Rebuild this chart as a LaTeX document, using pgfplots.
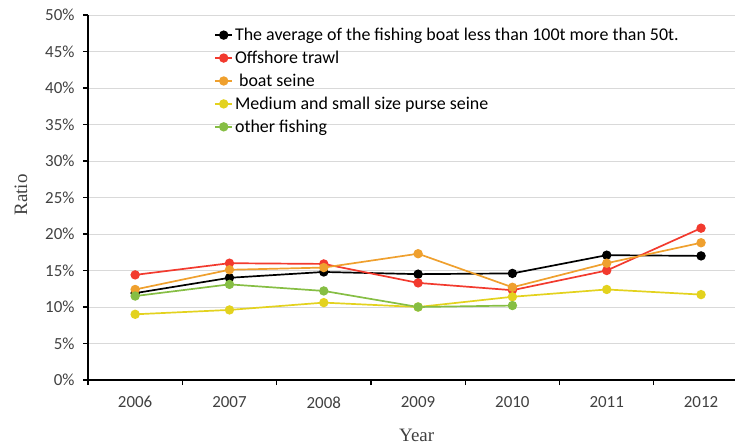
\documentclass[border=0pt]{standalone}
\usepackage{pgfplots}
\pgfplotsset{compat=1.18}
\usepackage{fontspec}
\setmainfont{Carlito}
\newfontfamily\serifl{Liberation Serif}
\definecolor{cblack}{HTML}{000000}
\definecolor{cred}{HTML}{F23A2E}
\definecolor{corange}{HTML}{EFA02E}
\definecolor{cyellow}{HTML}{E3D21E}
\definecolor{cgreen}{HTML}{86BE44}
\definecolor{tickgray}{HTML}{404040}
\begin{document}
\begin{tikzpicture}
\begin{axis}[
  scale only axis,
  width=647bp, height=365bp,
  xmin=2005.5, xmax=2012.36,
  ymin=0, ymax=50,
  axis x line=bottom, axis y line=left,
  axis line style={-, line width=1.6bp, black},
  xtick={2006,...,2012},
  xticklabels={2006,2007,2008,2009,2010,2011,2012},
  minor xtick={2005.5,2006.5,...,2011.5},
  ytick={0,5,...,50},
  yticklabel={\pgfmathprintnumber{\tick}\%},
  /pgf/number format/assume math mode=true,
  tick align=outside,
  major tick length=5bp, minor tick length=5bp,
  x tick style={draw=none},
  minor x tick style={draw=black, line width=1.2bp},
  y tick style={draw=black, line width=1.2bp},
  ymajorgrids,
  major grid style={draw=black!15, line width=1bp},
  ticklabel style={font=\fontsize{17}{19}\selectfont, text=tickgray},
  xticklabel style={yshift=-8bp},
  yticklabel style={xshift=-5bp},
  xlabel={\serifl Year},
  ylabel={\serifl Ratio},
  label style={font=\fontsize{19}{21}\selectfont, text=tickgray},
  xlabel style={at={(axis description cs:0.508,-0.1507)}, anchor=center},
  ylabel style={at={(axis description cs:-0.1035,0.507)}, anchor=center},
  legend style={draw=none, fill=none, at={(0.195,0.97)}, anchor=north west,
    font=\fontsize{18}{20}\selectfont, row sep=5bp, inner sep=0pt,
    legend cell align=left},
  legend image code/.code={\draw[mark repeat=2,mark phase=2] plot coordinates {(0cm,0cm) (0.3cm,0cm) (0.6cm,0cm)};},
  every axis plot/.append style={line width=1.7bp, mark=*, mark size=3.8bp},
]
\coordinate (O) at (rel axis cs:0,0);
\addplot[color=cblack, mark options={fill=cblack}] coordinates {
 (2006,11.9) (2007,14.0) (2008,14.8) (2009,14.5) (2010,14.6) (2011,17.1) (2012,17.0)};
\addlegendentry{The average of the fishing boat less than 100t more than 50t.}
\addplot[color=cred, mark options={fill=cred}] coordinates {
 (2006,14.4) (2007,16.0) (2008,15.9) (2009,13.3) (2010,12.3) (2011,15.0) (2012,20.8)};
\addlegendentry{Offshore trawl}
\addplot[color=corange, mark options={fill=corange}] coordinates {
 (2006,12.4) (2007,15.1) (2008,15.4) (2009,17.3) (2010,12.7) (2011,16.0) (2012,18.8)};
\addlegendentry{\ boat seine}
\addplot[color=cyellow, mark options={fill=cyellow}] coordinates {
 (2006,9.0) (2007,9.6) (2008,10.6) (2009,10.0) (2010,11.4) (2011,12.4) (2012,11.7)};
\addlegendentry{Medium and small size purse seine}
\addplot[color=cgreen, mark options={fill=cgreen}] coordinates {
 (2006,11.5) (2007,13.1) (2008,12.2) (2009,10.0) (2010,10.2)};
\addlegendentry{other fishing}
\end{axis}
\pgfresetboundingbox
\path[use as bounding box] ([xshift=-88bp,yshift=-67bp]O) rectangle ([xshift=647bp,yshift=380bp]O);
\end{tikzpicture}
\end{document}
